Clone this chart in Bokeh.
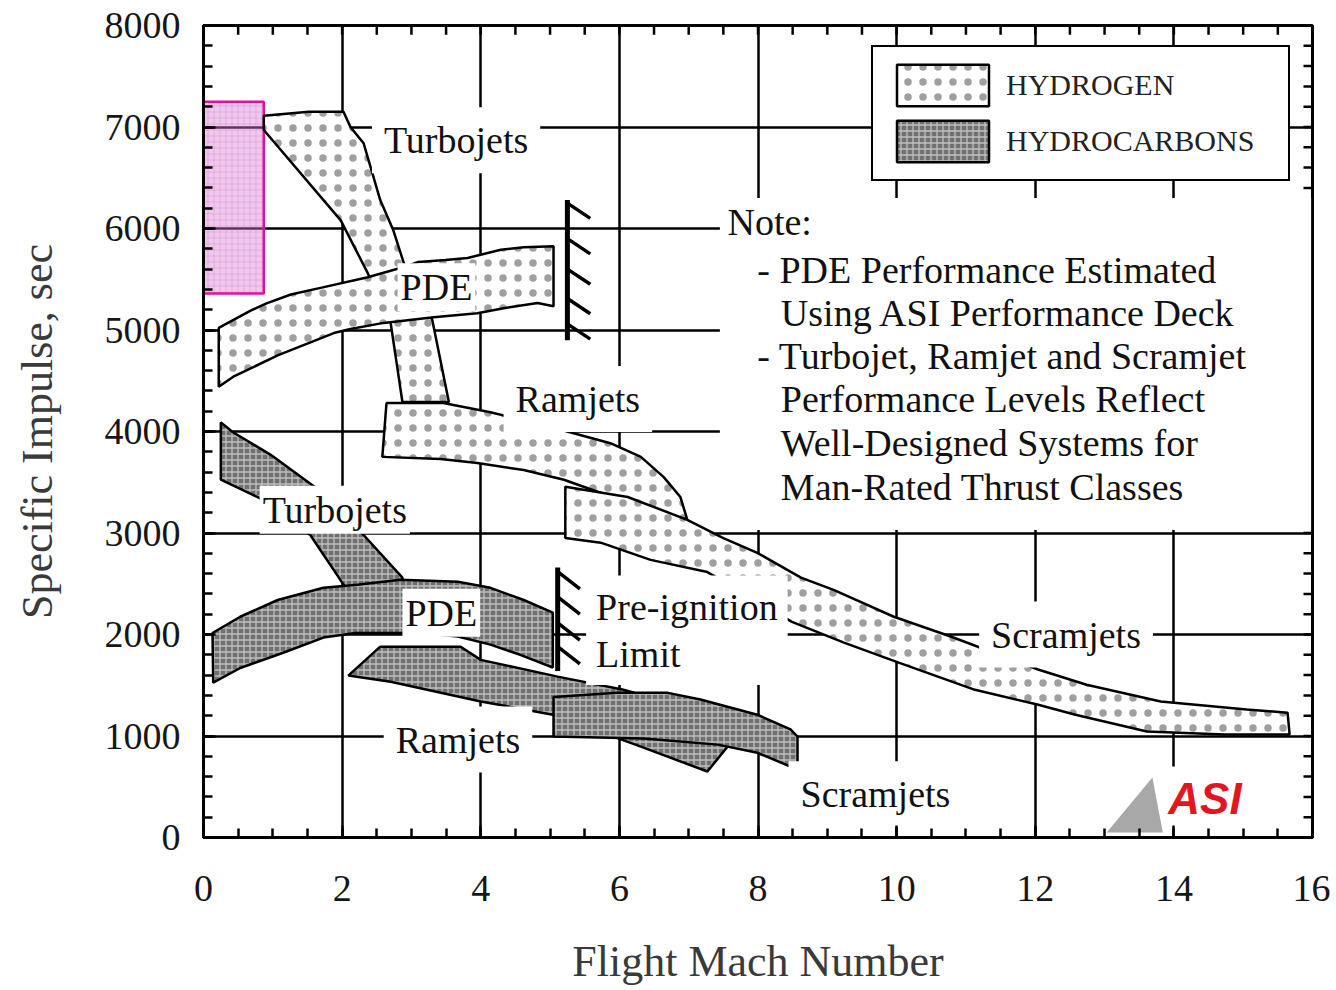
from bokeh.plotting import figure
from bokeh.models import Range1d, FixedTicker, Legend, LegendItem
from bokeh.core.properties import value
from bokeh.embed import file_html
from bokeh.resources import INLINE

FONT = "Liberation Serif"

# ---------------- data ----------------
X_TICKS = [0, 2, 4, 6, 8, 10, 12, 14, 16]
Y_TICKS = [0, 1000, 2000, 3000, 4000, 5000, 6000, 7000, 8000]
X_MINOR = [i * 0.5 for i in range(33)]
Y_MINOR = [i * 200 for i in range(41)]

# Hydrogen bands (Mach, Isp)
TJ_H_X = [0.87, 1.52, 2.02, 2.12, 2.31, 2.55, 2.74, 2.89, 3.30, 3.54, 2.87, 2.70, 2.37, 1.98, 0.87]
TJ_H_Y = [7110, 7150, 7150, 7000, 6840, 6280, 5980, 5660, 5100, 4290, 4290, 5070, 5560, 6080, 6970]

PDE_H_X = [0.22, 0.46, 0.68, 0.90, 1.26, 1.72, 2.37, 2.89, 3.10, 3.49, 3.81, 4.29, 4.62, 5.05,
           5.05, 4.82, 4.33, 3.95, 3.32, 2.60, 2.12, 1.88, 1.07, 0.43, 0.22]
PDE_H_Y = [5020, 5110, 5190, 5260, 5350, 5420, 5520, 5620, 5670, 5690, 5710, 5790, 5815, 5825,
           5235, 5265, 5215, 5165, 5125, 5070, 5010, 4970, 4750, 4540, 4440]

RAM_H_X = [2.64, 3.46, 4.14, 5.01, 5.87, 6.31, 6.64, 6.88, 6.98, 6.02, 5.20, 4.62, 3.95, 3.42, 2.58]
RAM_H_Y = [4280, 4280, 4190, 4045, 3885, 3750, 3550, 3355, 3130, 3325, 3525, 3620, 3690, 3730, 3750]

SCR_H_X = [5.22, 6.12, 6.98, 7.50, 7.99, 8.62, 9.09, 9.96, 10.78, 12.04, 12.74, 13.81, 15.05, 15.64,
           15.67, 14.73, 13.61, 12.58, 12.03, 11.13, 10.04, 9.24, 8.49, 7.27, 6.45, 5.73, 5.22]
SCR_H_Y = [3455, 3355, 3130, 2950, 2805, 2560, 2440, 2175, 1980, 1655, 1505, 1340, 1260, 1230,
           1015, 1015, 1045, 1210, 1310, 1455, 1720, 1920, 2125, 2615, 2735, 2905, 2950]

# Hydrocarbon bands (Mach, Isp)
TJ_C_X = [0.25, 0.42, 0.97, 1.66, 2.31, 2.87, 2.87, 2.12, 1.54, 0.87, 0.25]
TJ_C_Y = [4090, 3995, 3770, 3425, 2980, 2560, 2390, 2390, 2980, 3325, 3525]

RAM_C_X = [2.09, 2.55, 3.71, 4.00, 5.11, 6.06, 7.17, 7.56, 7.27, 6.31, 5.04, 4.00, 2.70]
RAM_C_Y = [1595, 1880, 1880, 1750, 1585, 1455, 1240, 895, 650, 895, 1210, 1340, 1535]

PDE_C_X = [0.13, 0.53, 1.07, 1.73, 2.22, 2.84, 3.67, 4.14, 4.62, 5.04,
           5.04, 4.57, 4.14, 3.67, 3.13, 2.70, 2.19, 1.73, 1.15, 0.53, 0.14]
PDE_C_Y = [2015, 2175, 2340, 2460, 2490, 2540, 2520, 2460, 2340, 2215,
           1675, 1800, 1900, 1980, 2015, 2015, 2015, 1970, 1820, 1670, 1525]

SCR_C_X = [5.05, 5.97, 6.70, 7.17, 7.99, 8.47, 8.57, 8.57, 7.99, 7.42, 6.35, 5.05]
SCR_C_Y = [1385, 1425, 1425, 1360, 1210, 1065, 995, 670, 835, 915, 975, 995]

# Pre-ignition limits
H_LIMIT_X = 5.25
H_LIMIT_Y = [4900, 6280]
H_LIMIT_TICKS = [6250, 5900, 5600, 5310, 5060]
C_LIMIT_X = 5.11
C_LIMIT_Y = [1640, 2660]
C_LIMIT_TICKS = [2620, 2370, 2115, 1880]

# Highlight box (Mach range, Isp range)
HIGHLIGHT_X = [-0.08, 0.87]
HIGHLIGHT_Y = [5360, 7250]

# Labels
LOOSE_TEXT = ["Turbojets", "Ramjets", "Scramjets", "Ramjets", "Scramjets"]
LOOSE_X = [2.43, 4.33, 11.19, 2.60, 8.44]
LOOSE_Y = [6870, 4320, 2000, 965, 425]
TIGHT_TEXT = ["PDE", "Turbojets", "PDE"]
TIGHT_X = [2.80, 0.81, 2.87]
TIGHT_Y = [5420, 3230, 2215]

NOTE_TEXT = ["Note:", "- PDE Performance Estimated", "Using ASI Performance Deck",
             "- Turbojet, Ramjet and Scramjet", "Performance Levels Reflect",
             "Well-Designed Systems for", "Man-Rated Thrust Classes"]
NOTE_X = [7.56, 7.99, 8.33, 7.99, 8.33, 8.33, 8.33]
NOTE_Y = [6060, 5590, 5165, 4745, 4320, 3885, 3455]

# ---------------- figure ----------------
p = figure(width=1330, height=988, x_range=Range1d(0, 16), y_range=Range1d(0, 8000),
           output_backend="svg", toolbar_location=None,
           min_border_left=203, min_border_right=18, min_border_top=25, min_border_bottom=150,
           background_fill_color="white", border_fill_color="white")
p.outline_line_color = "black"
p.outline_line_width = 3

xt = FixedTicker(ticks=X_TICKS, minor_ticks=X_MINOR)
yt = FixedTicker(ticks=Y_TICKS, minor_ticks=Y_MINOR)
p.xaxis.ticker = xt
p.yaxis.ticker = yt
p.xgrid.ticker = FixedTicker(ticks=X_TICKS)
p.ygrid.ticker = FixedTicker(ticks=Y_TICKS)
p.grid.grid_line_color = "black"
p.grid.grid_line_width = 2.5

for ax in (p.xaxis[0], p.yaxis[0]):
    ax.axis_line_color = "black"
    ax.axis_line_width = 3
    ax.major_tick_in = 12
    ax.major_tick_out = 0
    ax.minor_tick_in = 9
    ax.minor_tick_out = 0
    ax.major_tick_line_width = 2.5
    ax.minor_tick_line_width = 2.5
    ax.major_label_text_font = FONT
    ax.major_label_text_font_size = "38px"
    ax.major_label_text_color = "#161616"
    ax.axis_label_text_font = FONT
    ax.axis_label_text_font_size = "44px"
    ax.axis_label_text_font_style = "normal"
    ax.axis_label_text_color = "#3a3a3a"

p.xaxis.axis_label = "Flight Mach Number"
p.yaxis.axis_label = "Specific Impulse, sec"
p.xaxis.major_label_standoff = 38
p.xaxis.axis_label_standoff = 33
p.yaxis.major_label_standoff = 23
p.yaxis.axis_label_standoff = 40

# mirrored minor ticks on the top and right frame edges (tick marks, inward)
top_x = [v for v in X_MINOR if 0 < v < 16]
p.segment(x0=top_x, y0=[8000] * len(top_x), x1=top_x, y1=[8000 - 90] * len(top_x),
          line_color="black", line_width=2.5)
right_y = [v for v in Y_MINOR if 0 < v < 8000]
p.segment(x0=[16] * len(right_y), y0=right_y, x1=[16 - 0.13] * len(right_y), y1=right_y,
          line_color="black", line_width=2.5)

# note background panel and logo panel (layout)
p.quad(left=7.45, right=15.98, bottom=3030, top=6300, fill_color="white", line_color=None)
p.quad(left=12.9, right=15.75, bottom=30, top=700, fill_color="white", line_color=None)

# highlight box
p.quad(left=HIGHLIGHT_X[0], right=HIGHLIGHT_X[1], bottom=HIGHLIGHT_Y[0], top=HIGHLIGHT_Y[1],
       fill_color="#d47fd4", fill_alpha=0.42, line_color="#e0109b", line_width=2.5,
       hatch_pattern="+", hatch_color="#e050c0", hatch_alpha=0.25, hatch_scale=6, hatch_weight=1)

# bands
h_r = p.patches(xs=[TJ_H_X, PDE_H_X, RAM_H_X, SCR_H_X], ys=[TJ_H_Y, PDE_H_Y, RAM_H_Y, SCR_H_Y],
                fill_color="white", line_color="black", line_width=2.5,
                hatch_pattern=".", hatch_color="#2a2a2a", hatch_alpha=0.45, hatch_scale=15)
c_r = p.patches(xs=[TJ_C_X, RAM_C_X, PDE_C_X, SCR_C_X], ys=[TJ_C_Y, RAM_C_Y, PDE_C_Y, SCR_C_Y],
                fill_color="#707070", line_color="black", line_width=2.5,
                hatch_pattern="+", hatch_color="white", hatch_alpha=0.55, hatch_scale=6,
                hatch_weight=1.3)

# pre-ignition limit lines
p.segment(x0=[H_LIMIT_X], y0=[H_LIMIT_Y[0]], x1=[H_LIMIT_X], y1=[H_LIMIT_Y[1]], line_color="black", line_width=5)
p.segment(x0=[H_LIMIT_X] * len(H_LIMIT_TICKS), y0=H_LIMIT_TICKS,
          x1=[H_LIMIT_X + 0.33] * len(H_LIMIT_TICKS), y1=[v - 150 for v in H_LIMIT_TICKS],
          line_color="black", line_width=3.5)
p.segment(x0=[C_LIMIT_X], y0=[C_LIMIT_Y[0]], x1=[C_LIMIT_X], y1=[C_LIMIT_Y[1]], line_color="black", line_width=5)
p.segment(x0=[C_LIMIT_X] * len(C_LIMIT_TICKS), y0=C_LIMIT_TICKS,
          x1=[C_LIMIT_X + 0.32] * len(C_LIMIT_TICKS), y1=[v - 170 for v in C_LIMIT_TICKS],
          line_color="black", line_width=3.5)

# labels
p.text(x=LOOSE_X, y=LOOSE_Y, text=LOOSE_TEXT, text_font=value(FONT), text_font_size="38px",
       text_color="#111111", text_align="left", text_baseline="middle",
       background_fill_color="white", padding=12)
p.text(x=TIGHT_X, y=TIGHT_Y, text=TIGHT_TEXT, text_font=value(FONT), text_font_size="38px",
       text_color="#111111", text_align="left", text_baseline="middle",
       background_fill_color="white", padding=3)
p.text(x=[5.52], y=[2042], text=["Pre-ignition\nLimit"], text_font=value(FONT), text_font_size="38px",
       text_color="#111111", text_align="left", text_baseline="middle", text_line_height=1.13,
       background_fill_color="white", padding=10)
p.text(x=NOTE_X, y=NOTE_Y, text=NOTE_TEXT, text_font=value(FONT), text_font_size="38px",
       text_color="#111111", text_align="left", text_baseline="middle")

# logo
p.patch(x=[13.03, 13.69, 13.84], y=[49, 590, 49], fill_color="#a8a8a8", line_color=None)
p.text(x=[13.92], y=[380], text=["ASI"], text_font=value("Liberation Sans"), text_font_size="44px",
       text_font_style="bold italic", text_color="#e3161f", text_align="left", text_baseline="middle")

legend = Legend(items=[LegendItem(label="HYDROGEN", renderers=[h_r]),
                       LegendItem(label="HYDROCARBONS", renderers=[c_r])],
                location=(668, 656), border_line_color="black", border_line_width=2.5,
                border_line_alpha=1.0,
                background_fill_color="white", background_fill_alpha=1.0,
                padding=12, spacing=4, glyph_width=115, glyph_height=52, label_standoff=6,
                label_width=270,
                label_text_font=FONT, label_text_font_size="30px", label_text_color="#222222",
                margin=0)
p.add_layout(legend)

open("out.html", "w").write(file_html(p, INLINE))
